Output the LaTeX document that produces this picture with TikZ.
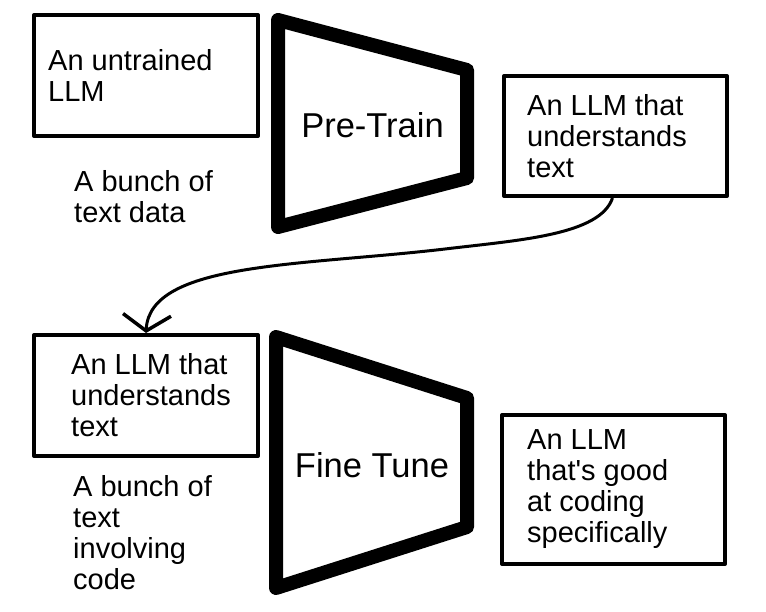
\documentclass[tikz,border=0pt]{standalone}
\usepackage{fontspec}
\setmainfont{Liberation Sans}
\usetikzlibrary{arrows.meta}

\begin{document}
\begin{tikzpicture}[x=1pt,y=-1pt,
        box/.style={draw,line width=4pt,line join=round,inner sep=0pt},
        txt/.style={align=left,inner sep=0pt,font=\fontsize{29}{31}\selectfont},
        funnel/.style={line width=14pt,line join=round},
        stage/.style={inner sep=0pt,font=\fontsize{34.5}{37}\selectfont},
        flow/.style={line width=3pt,-{Straight Barb[length=16pt,width=48pt,line width=3.5pt]}}]
            \useasboundingbox (0,0) rectangle (766,612);
            \node[box,minimum width=224pt,minimum height=121pt] (rawllm) at (146,75.5) {};
            \node[txt,anchor=west] (rawtxt) at ([xshift=16pt]rawllm.west) {An untrained\\LLM};
            \node[txt,anchor=west] (textdata) at (74,197) {A bunch of\\text data};
            \draw[funnel] (278,20) -- (467,70) -- (467,178) -- (278,227) -- cycle;
            \node[stage,anchor=base] (pretrain) at (372.5,138) {Pre-Train};
            \node[box,minimum width=223pt,minimum height=120pt] (knowsllm) at (615.5,136) {};
            \node[txt,anchor=west] (knowstxt) at ([xshift=25pt]knowsllm.west) {An LLM that\\understands\\text};
            \node[box,minimum width=224pt,minimum height=121pt] (textllm) at (146,395.5) {};
            \node[txt,anchor=west] (textllmtxt) at ([xshift=39pt]textllm.west) {An LLM that\\understands\\text};
            \node[txt,anchor=west] (codedata) at (73,532.5) {A bunch of\\text\\involving\\code};
            \draw[funnel] (276,337) -- (467,398) -- (467,527) -- (276,588) -- cycle;
            \node[stage,anchor=base] (finetune) at (372,477) {Fine Tune};
            \node[box,minimum width=223pt,minimum height=149pt] (codellm) at (613.5,489.5) {};
            \node[txt,anchor=west] (codetxt) at ([xshift=27pt]codellm.west) {An LLM\\that\textquotesingle s good\\at coding\\specifically};
            \coordinate (bend) at (445,249);
            \draw[flow] ([xshift=-3pt]knowsllm.south) .. controls (600,235) and (520,240) .. (bend) .. controls (300,266) and (150,262) .. (textllm.north);
        \end{tikzpicture}
\end{document}
